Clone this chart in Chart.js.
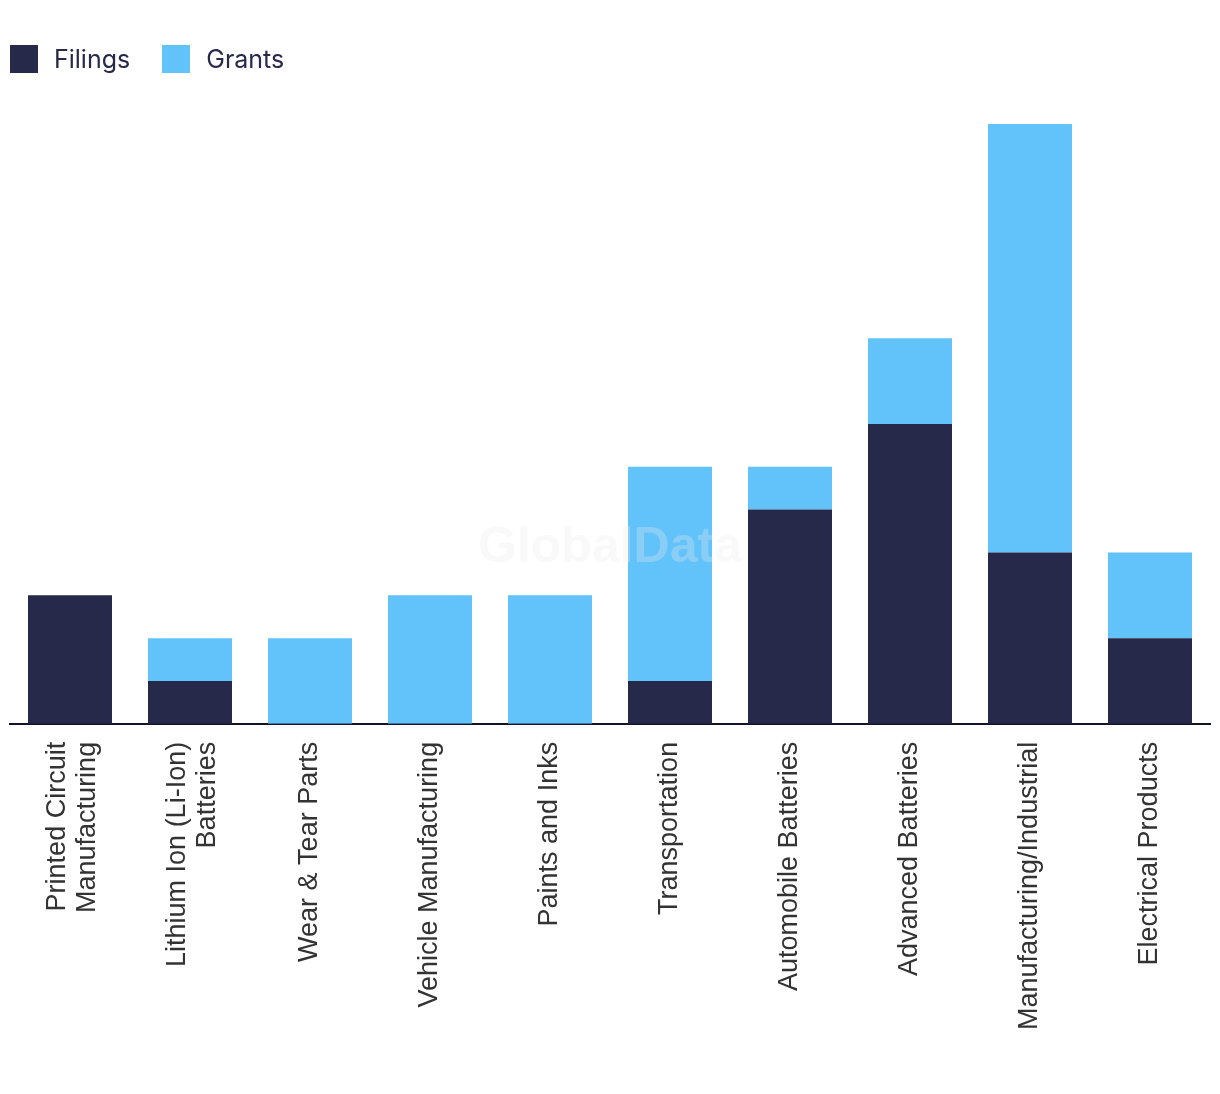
<!DOCTYPE html>
<html>
<head>
<meta charset="utf-8">
<script src="https://cdn.jsdelivr.net/npm/chart.js@4/dist/chart.umd.min.js"></script>
<style>
  html, body { margin: 0; padding: 0; background: #ffffff; }
  #wrap { position: relative; width: 1220px; height: 1094px; }
  #legend { position: absolute; left: 10px; top: 45px; display: flex; font-family: Inter, 'Noto Sans', sans-serif; font-size: 25px; color: #262949; }
  #legend .item { display: flex; align-items: center; height: 28px; margin-right: 32px; }
  #legend .box { width: 28px; height: 28px; margin-right: 16px; }
</style>
</head>
<body>
<div id="wrap">
  <div id="legend"></div>
  <canvas id="patentChart" width="1220" height="1094"></canvas>
</div>

<script>
  // categories and values
  var categories = [
    ["Printed Circuit", "Manufacturing"],
    ["Lithium Ion (Li-Ion)", "Batteries"],
    "Wear & Tear Parts",
    "Vehicle Manufacturing",
    "Paints and Inks",
    "Transportation",
    "Automobile Batteries",
    "Advanced Batteries",
    "Manufacturing/Industrial",
    "Electrical Products"
  ];
  var filings = [3, 1, 0, 0, 0, 1, 5, 7, 4, 2];
  var grants  = [0, 1, 2, 3, 3, 5, 1, 2, 10, 2];

  var seriesNames = ["Filings", "Grants"];
  var seriesColors = ["#262949", "#62c2fa"];

  // faint watermark over the bars
  var watermark = {
    id: 'watermark',
    afterDatasetsDraw: function(chart) {
      var ctx = chart.ctx;
      ctx.save();
      ctx.font = "bold 50px 'Liberation Sans', Arial, sans-serif";
      ctx.fillStyle = "rgba(235,235,235,0.3)";
      ctx.textAlign = "center";
      ctx.textBaseline = "middle";
      ctx.fillText("GlobalData", 610, 548);
      ctx.restore();
    }
  };

  // rotated two-line labels drift right; pull them back over the bar centre
  var centerMultiline = {
    id: 'centerMultiline',
    beforeDraw: function(chart) {
      var items = chart.scales.x.getLabelItems();
      items.forEach(function(it) {
        if (Array.isArray(it.label) && it.label.length > 1) {
          it.options.translation[0] -= 12 * (it.label.length - 1);
        }
      });
    }
  };

  var ctx = document.getElementById("patentChart").getContext("2d");

  var myChart = new Chart(ctx, {
    type: 'bar',
    data: {
      labels: categories,
      datasets: [
        { label: seriesNames[0], data: filings, backgroundColor: seriesColors[0], borderWidth: 0 },
        { label: seriesNames[1], data: grants, backgroundColor: seriesColors[1], borderWidth: 0 }
      ]
    },
    options: {
      responsive: false,
      animation: false,
      layout: { padding: { left: 10, right: 10, top: 124, bottom: 46 } },
      datasets: { bar: { barPercentage: 0.7, categoryPercentage: 1.0 } },
      plugins: {
        legend: { display: false },
        tooltip: { enabled: false }
      },
      scales: {
        x: {
          stacked: true,
          grid: { display: false, drawTicks: false },
          border: { display: true, color: "#15152a", width: 2 },
          ticks: {
            minRotation: 90,
            maxRotation: 90,
            padding: 18,
            color: "#333333",
            font: { family: "'Liberation Sans', Arial, sans-serif", size: 27, lineHeight: 1.1 }
          }
        },
        y: {
          stacked: true,
          display: false,
          min: 0,
          max: 14
        }
      }
    },
    plugins: [watermark, centerMultiline]
  });

  // html legend built from the datasets
  var legendEl = document.getElementById("legend");
  myChart.data.datasets.forEach(function(ds) {
    var item = document.createElement("div");
    item.className = "item";
    var box = document.createElement("span");
    box.className = "box";
    box.style.background = ds.backgroundColor;
    var txt = document.createElement("span");
    txt.textContent = ds.label;
    item.appendChild(box);
    item.appendChild(txt);
    legendEl.appendChild(item);
  });
</script>
</body>
</html>
